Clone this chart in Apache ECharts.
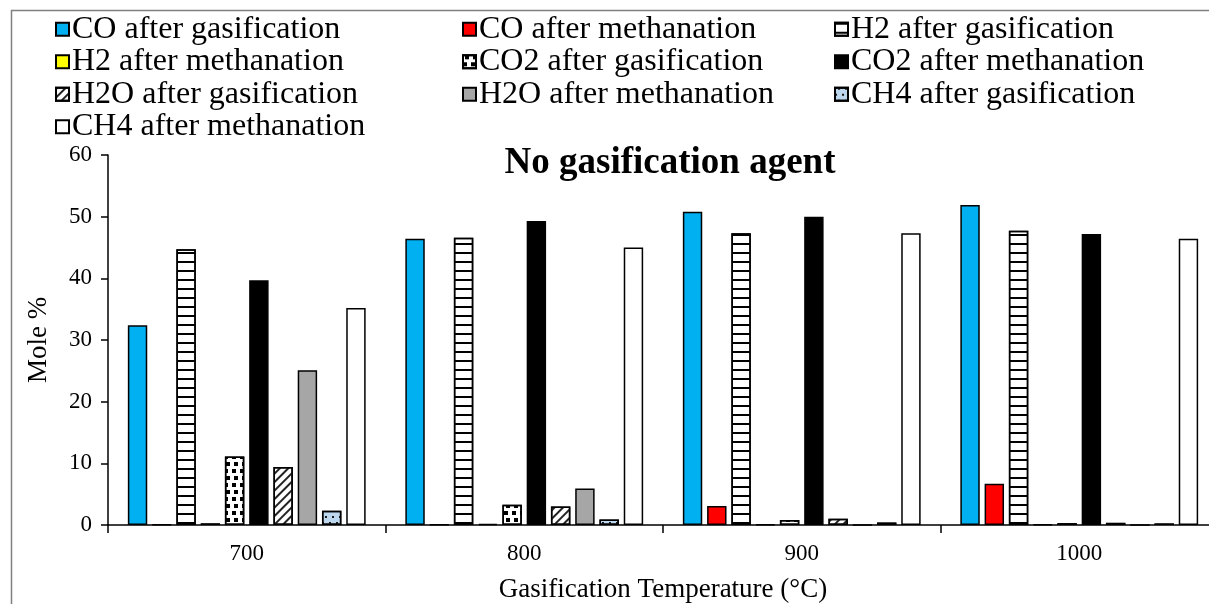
<!DOCTYPE html>
<html>
<head>
<meta charset="utf-8">
<script src="https://cdn.jsdelivr.net/npm/echarts@6/dist/echarts.min.js"></script>
<style>
  html, body { margin: 0; padding: 0; background: #fff; overflow: hidden; }
  #chart { width: 1209px; height: 604px; }
</style>
</head>
<body>
<div id="chart"></div>
<script>
// Gasification temperatures (°C)
const temperatures = ['700', '800', '900', '1000'];

// Mole % of each species, after gasification and after methanation
const coGasification   = [32.4, 46.4, 50.8, 51.9];
const coMethanation    = [0.05, 0.05, 3.1, 6.7];
const h2Gasification   = [44.7, 46.6, 47.3, 47.7];
const h2Methanation    = [0.3, 0.2, 0.1, 0.1];
const co2Gasification  = [11.1, 3.3, 0.8, 0.3];
const co2Methanation   = [39.7, 49.3, 50.0, 47.2];
const h2oGasification  = [9.4, 3.0, 1.0, 0.35];
const h2oMethanation   = [25.1, 5.9, 0, 0];
const ch4Gasification  = [2.3, 0.9, 0.4, 0.25];
const ch4Methanation   = [35.2, 45.0, 47.3, 46.4];

const yTicks = { min: 0, max: 60, step: 10 };

const FONT = "'Liberation Serif', 'Times New Roman', serif";

// Fill patterns
const stripesH = { symbol: 'rect', symbolSize: 1, color: '#000', dashArrayX: [1, 0], dashArrayY: [1.6, 6.4], rotation: 0 };
const checks = { symbol: 'rect', symbolSize: 1, color: '#000', dashArrayX: [[4, 4], [0, 2, 4, 2]], dashArrayY: [4, 2.5], rotation: 0 };
const diagonal = { symbol: 'rect', symbolSize: 1, color: '#222', dashArrayX: [1, 0], dashArrayY: [1.2, 3.8], rotation: -Math.PI / 4 };
const dots = { symbol: 'rect', symbolSize: 1, color: '#1a1a1a', dashArrayX: [[1.3, 5], [0, 3, 1.3, 2]], dashArrayY: [1.3, 3.5], rotation: 0 };

const seriesDefs = [
  { name: 'CO after gasification',  data: coGasification,  color: '#00B0F0' },
  { name: 'CO after methanation',   data: coMethanation,   color: '#FF0000' },
  { name: 'H2 after gasification',  data: h2Gasification,  color: '#FFFFFF', decal: stripesH },
  { name: 'H2 after methanation',   data: h2Methanation,   color: '#FFFF00' },
  { name: 'CO2 after gasification', data: co2Gasification, color: '#FFFFFF', decal: checks },
  { name: 'CO2 after methanation',  data: co2Methanation,  color: '#000000' },
  { name: 'H2O after gasification', data: h2oGasification, color: '#FFFFFF', decal: diagonal },
  { name: 'H2O after methanation',  data: h2oMethanation,  color: '#A6A6A6' },
  { name: 'CH4 after gasification', data: ch4Gasification, color: '#BDD7EE', decal: dots },
  { name: 'CH4 after methanation',  data: ch4Methanation,  color: '#FFFFFF' }
];

const series = seriesDefs.map(d => ({
  name: d.name,
  type: 'bar',
  data: d.data,
  barGap: '25%',
  barCategoryGap: '14.3%',
  itemStyle: Object.assign(
    { color: d.color, borderColor: '#000', borderWidth: 1.5 },
    d.decal ? { decal: d.decal } : {}
  ),
  emphasis: { disabled: true }
}));

// Legend laid out in three columns
const legendColumns = [
  { left: 55,  names: ['CO after gasification', 'H2 after methanation', 'H2O after gasification', 'CH4 after methanation'] },
  { left: 462, names: ['CO after methanation', 'CO2 after gasification', 'H2O after methanation'] },
  { left: 834, names: ['H2 after gasification', 'CO2 after methanation', 'CH4 after gasification'] }
];

const legends = legendColumns.map(c => ({
  orient: 'vertical',
  left: c.left,
  top: 13,
  padding: 0,
  itemWidth: 13,
  itemHeight: 13,
  itemGap: 0,
  selectedMode: false,
  icon: 'rect',
  data: c.names,
  textStyle: { fontFamily: FONT, fontSize: 32, color: '#000', lineHeight: 32.5, padding: [0, 0, 0, -2] }
}));

const chart = echarts.init(document.getElementById('chart'), null, { renderer: 'canvas', width: 1209, height: 604 });

chart.setOption({
  backgroundColor: '#fff',
  animation: false,
  aria: { decal: { show: false } },
  title: {
    text: 'No gasification agent',
    left: 665,
    textAlign: 'center',
    top: 140,
    textStyle: { fontFamily: FONT, fontSize: 37, fontWeight: 'bold', color: '#000' }
  },
  legend: legends,
  // plot area runs slightly past the right edge of the canvas
  grid: { left: 108, top: 155, width: 1110, height: 370, containLabel: false, outerBoundsMode: 'none' },
  xAxis: {
    type: 'category',
    data: temperatures,
    name: 'Gasification Temperature (°C)',
    nameLocation: 'middle',
    nameGap: 51,
    nameTextStyle: { fontFamily: FONT, fontSize: 27, color: '#000' },
    axisLine: { lineStyle: { color: '#000', width: 1.5 } },
    axisTick: { show: true, length: 8, lineStyle: { color: '#000', width: 1.5 } },
    axisLabel: { fontFamily: FONT, fontSize: 23, color: '#000', margin: 17 },
    splitLine: { show: false }
  },
  yAxis: {
    type: 'value',
    min: yTicks.min,
    max: yTicks.max,
    interval: yTicks.step,
    name: 'Mole %',
    nameLocation: 'middle',
    nameRotate: 90,
    nameGap: 56,
    nameTextStyle: { fontFamily: FONT, fontSize: 27, color: '#000' },
    axisLine: { show: true, lineStyle: { color: '#000', width: 1.5 } },
    axisTick: { show: true, length: 7, lineStyle: { color: '#000', width: 1.5 } },
    axisLabel: { fontFamily: FONT, fontSize: 23, color: '#000', margin: 16 },
    splitLine: { show: false }
  },
  graphic: [{
    type: 'rect',
    silent: true,
    z: -1,
    shape: { x: 11.5, y: 10.5, width: 1300, height: 700 },
    style: { fill: 'none', stroke: '#808080', lineWidth: 1.5 }
  }],
  series: series
});
</script>
</body>
</html>
